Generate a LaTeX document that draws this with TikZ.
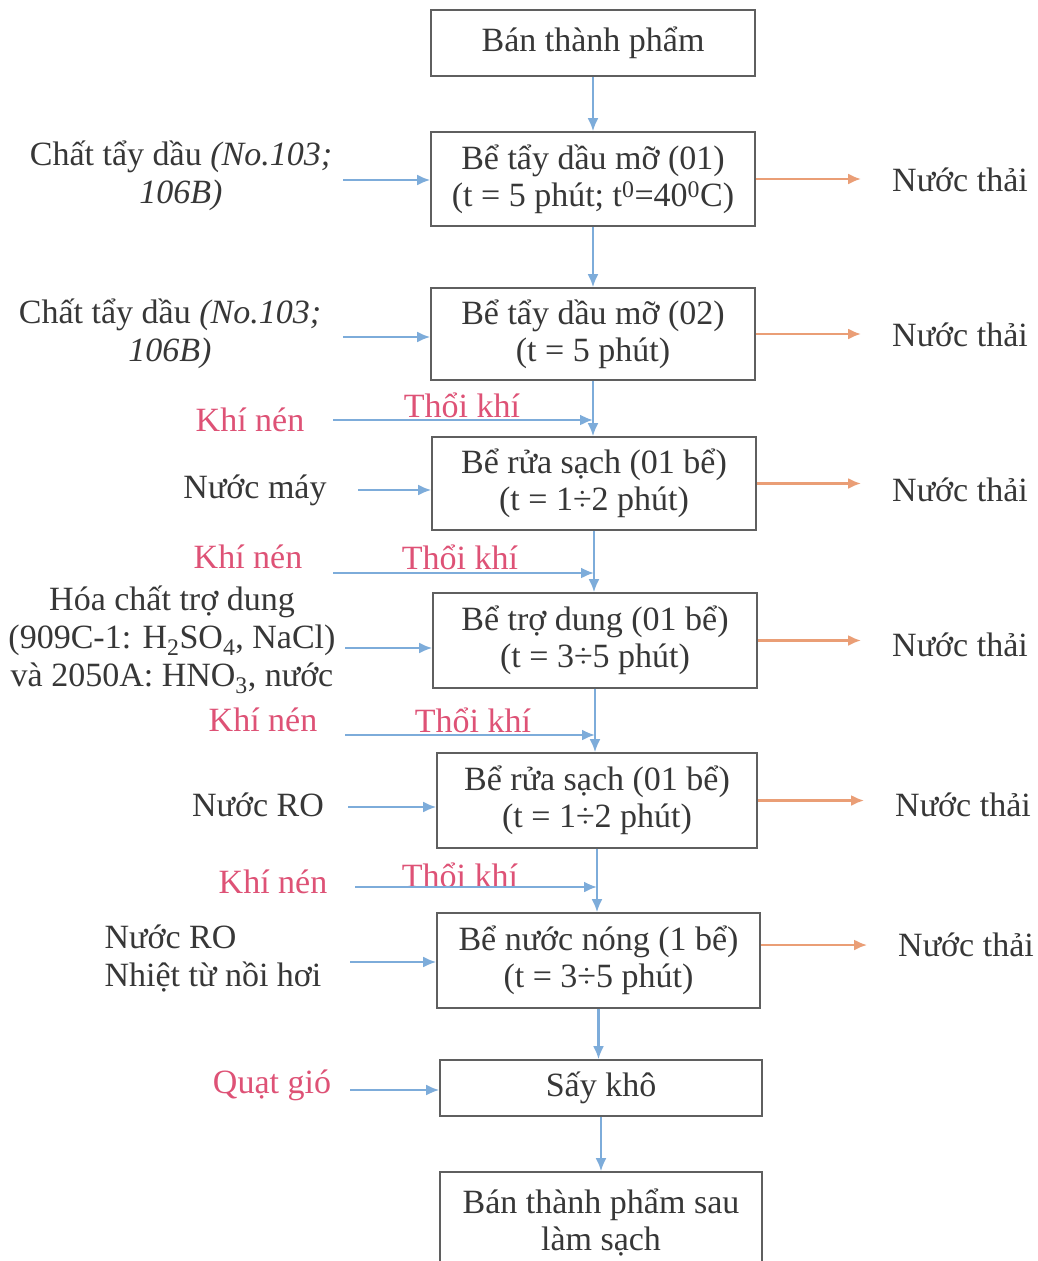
\documentclass[tikz,border=0pt]{standalone}
\usepackage{fontspec}
\setmainfont{Liberation Serif}
\usetikzlibrary{arrows.meta}
\definecolor{txt}{RGB}{55,55,55}
\definecolor{boxc}{RGB}{95,95,95}
\definecolor{bluec}{RGB}{125,172,218}
\definecolor{orc}{RGB}{234,158,118}
\definecolor{pinkc}{RGB}{222,82,118}
\begin{document}
\begin{tikzpicture}[x=1pt,y=-1pt,
  box/.style={draw=boxc, line width=1.6pt, minimum width=324pt, align=center, text=txt,
    font=\fontsize{34}{37}\selectfont, inner sep=0pt},
  lbl/.style={text=txt, font=\fontsize{34}{38}\selectfont, align=center, inner sep=0pt},
  pk/.style={text=pinkc, font=\fontsize{34}{38}\selectfont, inner sep=0pt},
  blarrow/.style={draw=bluec, line width=2.2pt, -{Latex[length=13pt,width=11pt]}},
  orarrow/.style={draw=orc, line width=2.2pt, -{Latex[length=13pt,width=11pt]}, shorten >=31pt}]
\useasboundingbox (0,0) rectangle (1037,1261);
\fill[white] (0,0) rectangle (1037,1261);

% main column
\node[box, minimum height=66pt] (b1) at (593,43) {Bán thành phẩm};
\node[box, minimum height=94pt] (b2) at (593,179) {Bể tẩy dầu mỡ (01)\\(t = 5 phút; t\textsuperscript{0}=40\textsuperscript{0}C)};
\node[box, minimum height=92pt] (b3) at (593,334) {Bể tẩy dầu mỡ (02)\\(t = 5 phút)};
\node[box, minimum height=93pt] (b4) at (594,483.5) {Bể rửa sạch (01 bể)\\(t = 1÷2 phút)};
\node[box, minimum height=95pt] (b5) at (595,640.5) {Bể trợ dung (01 bể)\\(t = 3÷5 phút)};
\node[box, minimum width=320pt, minimum height=95pt] (b6) at (597,800.5) {Bể rửa sạch (01 bể)\\(t = 1÷2 phút)};
\node[box, minimum width=323pt, minimum height=95pt] (b7) at (598.5,960.5) {Bể nước nóng (1 bể)\\(t = 3÷5 phút)};
\node[box, minimum width=322pt, minimum height=56pt] (b8) at (601,1088) {Sấy khô};
\node[box, minimum width=322pt, minimum height=100pt] (b9) at (601,1222) {Bán thành phẩm sau\\làm sạch};

% left inputs
\node[lbl] (in1) at (181,176) {Chất tẩy dầu \textit{(No.103;}\\\textit{106B)}};
\node[lbl] (in2) at (170,334) {Chất tẩy dầu \textit{(No.103;}\\\textit{106B)}};
\node[pk] (kn1) at (250,420) {Khí nén};
\node[lbl] (nm) at (255,490) {Nước máy};
\node[pk] (kn2) at (248,557) {Khí nén};
\node[lbl] (hc) at (172,640) {Hóa chất trợ dung\\(909C-1: H\textsubscript{2}SO\textsubscript{4}, NaCl)\\và 2050A: HNO\textsubscript{3}, nước};
\node[pk] (kn3) at (263,720) {Khí nén};
\node[lbl] (ro1) at (258,805) {Nước RO};
\node[pk] (kn4) at (273,882) {Khí nén};
\node[lbl, align=left] (ro2) at (213,958) {Nước RO\\Nhiệt từ nồi hơi};
\node[pk] (qg) at (272,1085) {Quạt gió};

% Thoi khi labels
\node[pk] (tk1) at (462,405) {Thổi khí};
\node[pk] (tk2) at (460,557) {Thổi khí};
\node[pk] (tk3) at (473,720) {Thổi khí};
\node[pk] (tk4) at (460,875) {Thổi khí};

% outputs
\node[lbl] (w1) at (960,180) {Nước thải};
\node[lbl] (w2) at (960,335) {Nước thải};
\node[lbl] (w3) at (960,490) {Nước thải};
\node[lbl] (w4) at (960,645) {Nước thải};
\node[lbl] (w5) at (963,805) {Nước thải};
\node[lbl] (w6) at (966,945) {Nước thải};

% vertical flow
\draw[blarrow] (b1.south) -- (b2.north);
\draw[blarrow] (b2.south) -- (b3.north);
\draw[blarrow] (b3.south) -- (b3.south |- b4.north);
\draw[blarrow] (b4.south) -- (b4.south |- b5.north);
\draw[blarrow] (b5.south) -- (b5.south |- b6.north);
\draw[blarrow] (b6.south) -- (b6.south |- b7.north);
\draw[blarrow] (b7.south) -- (b7.south |- b8.north);
\draw[blarrow] (b8.south) -- (b9.north);

% input arrows
\coordinate (a1) at (343,180);
\coordinate (a2) at (343,337);
\coordinate (a3) at (358,490);
\coordinate (a4) at (345,648);
\coordinate (a5) at (348,807);
\coordinate (a6) at (350,962);
\coordinate (a7) at (350,1090);
\draw[blarrow] (a1) -- (a1 -| b2.west);
\draw[blarrow] (a2) -- (a2 -| b3.west);
\draw[blarrow] (a3) -- (a3 -| b4.west);
\draw[blarrow] (a4) -- (a4 -| b5.west);
\draw[blarrow] (a5) -- (a5 -| b6.west);
\draw[blarrow] (a6) -- (a6 -| b7.west);
\draw[blarrow] (a7) -- (a7 -| b8.west);

% air lines
\coordinate (t1) at (333,420);
\coordinate (t2) at (333,573);
\coordinate (t3) at (345,735);
\coordinate (t4) at (355,887);
\draw[blarrow] (t1) -- (t1 -| b3.south);
\draw[blarrow] (t2) -- (t2 -| b4.south);
\draw[blarrow] (t3) -- (t3 -| b5.south);
\draw[blarrow] (t4) -- (t4 -| b6.south);

% output arrows
\draw[orarrow] (b2.east) -- (b2.east -| w1.west);
\draw[orarrow] (b3.east) -- (b3.east -| w2.west);
\draw[orarrow] (b4.east) -- (b4.east -| w3.west);
\draw[orarrow] (b5.east) -- (b5.east -| w4.west);
\draw[orarrow] (b6.east) -- (b6.east -| w5.west);
\draw[orarrow] (b7.east |- w6) -- (w6.west);
\end{tikzpicture}
\end{document}
